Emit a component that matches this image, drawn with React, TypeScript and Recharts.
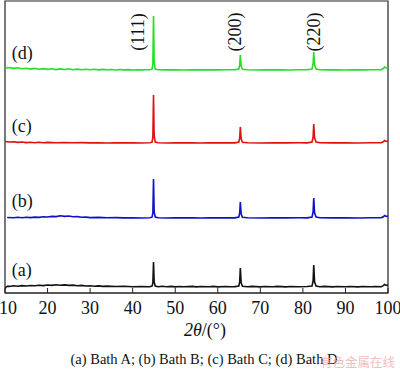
import { LineChart, Line, XAxis, YAxis, ReferenceDot, ReferenceArea } from "recharts"

// 2θ (deg) vs. relative intensity above each pattern's baseline
const bathA: [number, number][] = [
  [10, -1.5], [10.3, 0.2], [10.7, 0.8], [11, 0.5], [12, 1.2], [13, 0.8], [14, 1.4], [15, 1.0],
  [16, 1.5], [17, 1.2], [18, 1.8], [19, 1.4], [20, 2.0], [21, 1.6], [22, 2.2], [23, 1.8],
  [24, 2.1], [25, 1.6], [26, 1.9], [27, 1.3], [28, 1.6], [29, 1.0], [30, 1.3], [31, 0.8],
  [32, 1.1], [33, 0.6], [34, 0.9], [36, 0.5], [38, 0.7], [40, 0.3], [42, 0.5], [44, 0.3],
  [44.55, 0.9], [44.75, 4], [44.9, 25], [45.05, 5], [45.3, 1], [46, 0.3], [47, 0.7], [48, 0.2],
  [49, 0.6], [50, 0.1], [51, 0.5], [52, 0.2], [54, 0.6], [55, 0.1], [56, 0.5], [58, 0.2],
  [59, 0.6], [60, 0.1], [62, 0.5], [63, 0.2], [64, 0.4], [64.95, 1], [65.15, 5], [65.3, 19],
  [65.5, 4], [65.8, 0.8], [67, 0.2], [68, 0.6], [70, 0.1], [71, 0.5], [73, 0.2], [74, 0.6],
  [76, 0.1], [77, 0.5], [79, 0.2], [81, 0.5], [82.15, 1], [82.4, 6], [82.55, 22], [82.75, 5],
  [83.1, 1], [84, 0.3], [85, 0.6], [87, 0.1], [88, 0.5], [90, 0.2], [91, 0.5], [93, 0.1],
  [94, 0.5], [96, 0.2], [97, 0.5], [98.4, 0.3], [98.9, 1.3], [99.2, 2.5], [99.6, 1.5], [100, 2],
]

const bathB: [number, number][] = [
  [10.5, 0.5], [12, 0.3], [13, 0.8], [14, 0.2], [15, 0.7], [16, 0.4], [17, 0.9], [18, 0.6],
  [19, 1.2], [20, 1.0], [21, 1.6], [22, 1.4], [23, 2.2], [24, 1.6], [25, 2.0], [26, 1.2],
  [27, 1.4], [28, 0.7], [29, 0.9], [30, 0.4], [32, 0.6], [34, 0.2], [36, 0.4], [38, 0.1],
  [40, 0.3], [42, 0], [44, 0.2], [44.55, 0.8], [44.75, 5], [44.9, 39], [45.05, 6], [45.3, 1],
  [46, 0.2], [48, 0], [50, 0.2], [52, 0.1], [54, 0.3], [56, 0], [58, 0.2], [60, 0.1],
  [62, 0.3], [64, 0.1], [64.95, 1], [65.15, 5], [65.3, 16], [65.5, 4], [65.8, 0.8], [67, 0.2],
  [70, 0], [73, 0.2], [76, 0.1], [79, 0.2], [81, 0.1], [82.15, 1], [82.4, 6], [82.55, 20],
  [82.75, 5], [83.1, 1], [84, 0.2], [87, 0.1], [90, 0.2], [93, 0], [96, 0.2], [98.4, 0.2],
  [98.9, 1.2], [99.2, 2.5], [99.6, 1.5], [100, 2],
]

const bathC: [number, number][] = [
  [10, 1.5], [11, 1.0], [12, 1.3], [13, 0.6], [14, 1.0], [15, 0.4], [16, 0.8], [17, 0.3],
  [18, 0.7], [19, 0.2], [20, 0.6], [22, 0.3], [24, 0.5], [26, 0.2], [28, 0.4], [30, 0.1],
  [32, 0.3], [34, 0], [36, 0.3], [38, 0.1], [40, 0.2], [42, 0], [44, 0.2], [44.55, 0.8],
  [44.75, 6], [44.9, 48], [45.05, 7], [45.3, 1], [46, 0.2], [48, 0], [50, 0.2], [52, 0.1],
  [54, 0.2], [56, 0], [58, 0.2], [60, 0.1], [62, 0.2], [64, 0.1], [64.95, 1], [65.15, 5],
  [65.3, 16], [65.5, 4], [65.8, 0.8], [67, 0.2], [70, 0], [73, 0.2], [76, 0.1], [79, 0.2],
  [81, 0.1], [82.15, 1], [82.4, 6], [82.55, 19], [82.75, 5], [83.1, 1], [84, 0.2], [87, 0.1],
  [90, 0.2], [93, 0], [96, 0.2], [98.4, 0.2], [98.9, 1.2], [99.2, 2.5], [99.6, 1.5], [100, 2],
]

const bathD: [number, number][] = [
  [10, 3], [10.5, 2], [11, 2.5], [12, 1.6], [13, 2.2], [14, 1.2], [15, 1.8], [16, 0.9],
  [17, 1.6], [18, 0.7], [19, 1.4], [20, 0.6], [21, 1.2], [22, 0.4], [23, 1.1], [24, 0.5],
  [25, 1.2], [26, 0.3], [27, 0.9], [28, 0.2], [29, 0.8], [30, 0.3], [31, 0.7], [32, 0.1],
  [33, 0.6], [34, 0.2], [35, 0.5], [36, 0], [37, 0.5], [38, 0.1], [39, 0.4], [40, 0],
  [41, 0.3], [42, 0.1], [43, 0.3], [44, 0.2], [44.55, 0.8], [44.75, 6], [44.9, 54], [45.05, 8],
  [45.3, 1], [46, 0.3], [48, 0.1], [50, 0.3], [52, 0], [54, 0.2], [56, 0.1], [58, 0.3],
  [60, 0.1], [62, 0.2], [64, 0.3], [64.95, 1], [65.15, 5], [65.3, 15], [65.5, 4], [65.8, 0.8],
  [67, 0.2], [69, 0], [71, 0.2], [73, 0.1], [75, 0.2], [77, 0], [79, 0.2], [81, 0.3],
  [82.15, 1], [82.4, 6], [82.55, 18], [82.75, 5], [83.1, 1], [84, 0.3], [86, 0.1], [88, 0.2],
  [90, 0], [92, 0.2], [94, 0.1], [96, 0.2], [98.4, 0.3], [98.9, 1.5], [99.2, 3], [99.6, 2], [100, 2.5],
]

// vertical offset of each pattern in the stacked plot
const offsets = [6, 75, 150, 223]
const seriesNames = ["(a)", "(b)", "(c)", "(d)"]
const seriesColors = ["#111111", "#1010c8", "#e01010", "#22e022"]
const peakLabels = ["(111)", "(200)", "(220)"]
const peakLabelX = [41.2, 64.1, 82.5]
const xTicks = [10, 20, 30, 40, 50, 60, 70, 80, 90, 100]

const allSeries = [bathA, bathB, bathC, bathD].map((s, i) =>
  s.map(([t, v]) => ({ t, v: v + offsets[i] }))
)

const serif = "'Liberation Serif', 'Times New Roman', serif"

const BottomTick = (props: any) => {
  const { x, y, payload } = props
  // first label sits flush with the left edge in the original
  const tx = payload.value === 10 ? x + 3 : x
  return (
    <g>
      <line x1={x} x2={x} y1={y} y2={y - 5} stroke="#222" strokeWidth={1} />
      <text x={tx} y={y + 21} textAnchor="middle" fontFamily={serif} fontSize={18} fill="#111">
        {payload.value}
      </text>
    </g>
  )
}

export default function App() {
  return (
    <div style={{ position: "absolute", left: 0, top: 0, width: 400, height: 370, background: "#fff" }}>
      <LineChart width={400} height={370} margin={{ top: 1, right: 12, left: 5, bottom: 47 }}>
        <XAxis
          dataKey="t"
          type="number"
          domain={[10, 100]}
          ticks={xTicks}
          interval={0}
          tick={<BottomTick />}
          tickLine={false}
          tickSize={0}
          tickMargin={0}
          axisLine={{ stroke: "#222", strokeWidth: 1.2 }}
          height={30}
          allowDataOverflow
        />
        <YAxis type="number" domain={[0, 292]} tick={false} tickLine={false} axisLine={false} width={0} allowDataOverflow />
        {/* plot frame */}
        <ReferenceArea x1={10} x2={100} y1={0} y2={292} fill="none" stroke="#222" strokeWidth={1.2} fillOpacity={0} />
        {allSeries.map((data, i) => (
          <Line
            key={seriesNames[i]}
            data={data}
            dataKey="v"
            type="linear"
            stroke={seriesColors[i]}
            strokeWidth={1.6}
            dot={false}
            isAnimationActive={false}
          />
        ))}
        {seriesNames.map((name, i) => (
          <ReferenceDot
            key={"lbl" + name}
            x={11.6}
            y={offsets[i] + 17}
            r={0}
            stroke="none"
            label={(p: any) => (
              <text x={p.viewBox.x} y={p.viewBox.y} dominantBaseline="central" fontFamily={serif} fontSize={18} fill="#111">
                {name}
              </text>
            )}
          />
        ))}
        {peakLabels.map((name, i) => (
          <ReferenceDot
            key={"hkl" + name}
            x={peakLabelX[i]}
            y={261}
            r={0}
            stroke="none"
            label={(p: any) => (
              <text
                x={p.viewBox.x}
                y={p.viewBox.y}
                transform={`rotate(-90 ${p.viewBox.x} ${p.viewBox.y})`}
                textAnchor="middle"
                dominantBaseline="central"
                fontFamily={serif}
                fontSize={18}
                fill="#111"
              >
                {name}
              </text>
            )}
          />
        ))}
      </LineChart>
      <div style={{ position: "absolute", left: 0, width: 410, top: 320, textAlign: "center", fontFamily: serif, fontSize: 18, color: "#111" }}>
        <i>2θ</i>/(°)
      </div>
      <div style={{ position: "absolute", left: 0, width: 408, top: 351, textAlign: "center", fontFamily: serif, fontSize: 14.5, color: "#111" }}>
        (a) Bath A; (b) Bath B; (c) Bath C; (d) Bath D
      </div>
      <div style={{ position: "absolute", left: 320, top: 352, fontFamily: "'Noto Sans CJK SC', sans-serif", fontSize: 12.5, color: "#f2a8a8", opacity: 0.75 }}>
        有色金属在线
      </div>
    </div>
  )
}
